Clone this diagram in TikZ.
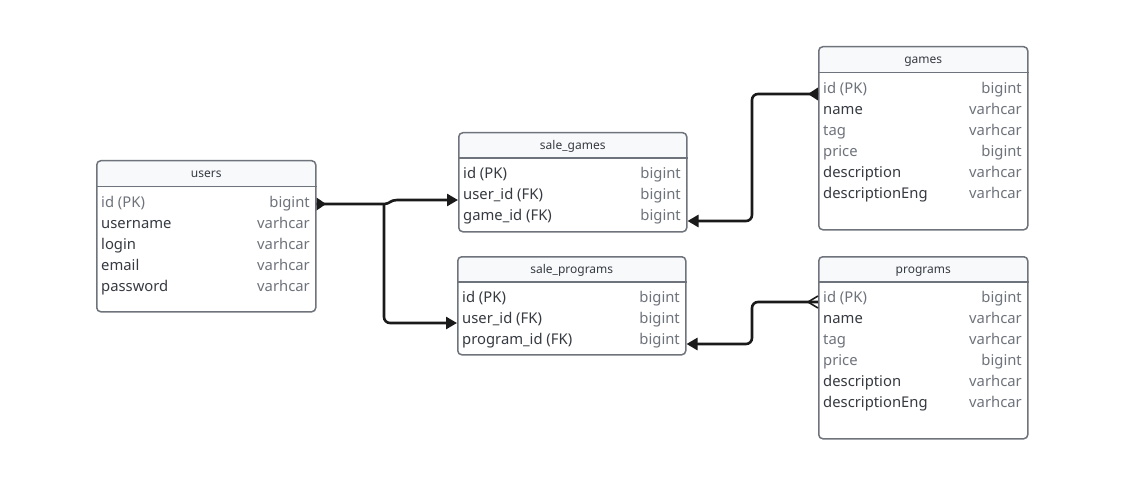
\documentclass[tikz,border=0pt]{standalone}
\usepackage{fontspec}
\setmainfont{Noto Sans}
\usetikzlibrary{arrows.meta,calc}
\definecolor{bord}{HTML}{6F747C}
\definecolor{hdr}{HTML}{F8F9FB}
\definecolor{dk}{HTML}{363A41}
\definecolor{lt}{HTML}{6E737B}
\definecolor{ln}{HTML}{1A1A1A}
\tikzset{
  tbox/.style={draw=bord, line width=1.5pt, rounded corners=4pt, fill=white, inner sep=0pt, anchor=north west},
  hline/.style={draw=bord, line width=1.2pt},
  ttl/.style={font=\fontsize{12}{14}\selectfont, text=dk, inner sep=0pt, anchor=base},
  rowl/.style={font=\fontsize{14.8}{17}\selectfont, anchor=base west, inner sep=0pt},
  rowr/.style={font=\fontsize{14.8}{17}\selectfont, anchor=base east, inner sep=0pt, text=lt},
  conn/.style={draw=ln, line width=2.6pt, rounded corners=6pt},
  tipend/.style={-{Triangle[length=11pt,width=12pt]}},
}
\newcommand\erTable[7]{% name, x, y, w, h, headerH, title
  \node[tbox, minimum width=#4pt, minimum height=#5pt,
    path picture={\fill[hdr] (path picture bounding box.north west) rectangle ([yshift=-#6pt]path picture bounding box.north east);}]
    (#1) at (#2,#3) {};
  \draw[hline] ([yshift=-#6pt]#1.north west) -- ([yshift=-#6pt]#1.north east);
  \node[ttl] (#1-title) at ($(#1.north)+(0,#6/2+4.3)$) {#7};
}
\newcommand\erRows[5]{% name, xl, xr, y0 (row centre), list
  \foreach \l/\t/\c [count=\i from 0] in {#5} {
    \node[rowl, text=\c] (#1-n\i) at (#2, #4+5.3+21*\i) {\l};
    \node[rowr] (#1-t\i) at (#3, #4+5.3+21*\i) {\t};
  }
}
\begin{document}
\begin{tikzpicture}[x=1pt,y=-1pt]
\useasboundingbox[fill=white] (0,0) rectangle (1131,489);

% users
\erTable{users}{96}{160}{219}{151}{26.5}{users}
\erRows{users}{101}{310}{202}{id (PK)/bigint/lt, username/varhcar/dk, login/varhcar/dk, email/varhcar/dk, password/varhcar/dk}

% sale_games
\erTable{sg}{458}{132}{228}{99}{26}{sale\_games}
\erRows{sg}{463}{681}{173}{id (PK)/bigint/dk, user\_id (FK)/bigint/dk, game\_id (FK)/bigint/dk}

% sale_programs
\erTable{sp}{457}{256}{228}{98}{26}{sale\_programs}
\erRows{sp}{462}{680}{297}{id (PK)/bigint/dk, user\_id (FK)/bigint/dk, program\_id (FK)/bigint/dk}

% games
\erTable{games}{818}{46}{209}{183}{26.5}{games}
\erRows{games}{823}{1022}{88}{id (PK)/bigint/lt, name/varhcar/dk, tag/varhcar/lt, price/bigint/lt, description/varhcar/dk, descriptionEng/varhcar/dk}

% programs
\erTable{programs}{818}{256}{209}{182}{26}{programs}
\erRows{programs}{823}{1022}{297}{id (PK)/bigint/lt, name/varhcar/dk, tag/varhcar/lt, price/bigint/lt, description/varhcar/dk, descriptionEng/varhcar/dk}

% junction coordinate
\coordinate (jn) at (384,204);

% connectors
\draw[conn, tipend, rounded corners=0pt] (users.east |- 0,204) -- (jn) .. controls (390,204) and (390,200) .. (397,200) -- (sg.west |- 0,200);
\draw[conn, tipend] (jn) -- (384,323) -- (sp.west |- 0,323);
\draw[conn, tipend] (games.west |- 0,94) -- (752,94) -- (752,221) -- (sg.east |- 0,221);
\draw[conn, tipend] (programs.west |- 0,302) -- (752,302) -- (752,344) -- (sp.east |- 0,344);

% end markers
\fill[ln] (users.east |- 0,197.5) -- (326,204) -- (users.east |- 0,210.5) -- cycle;
\fill[ln] (games.west |- 0,87.5) -- (808,94) -- (games.west |- 0,100.5) -- cycle;
\draw[ln, line width=1.6pt] (programs.west |- 0,296) -- (808,302) -- (programs.west |- 0,308);
\end{tikzpicture}
\end{document}
